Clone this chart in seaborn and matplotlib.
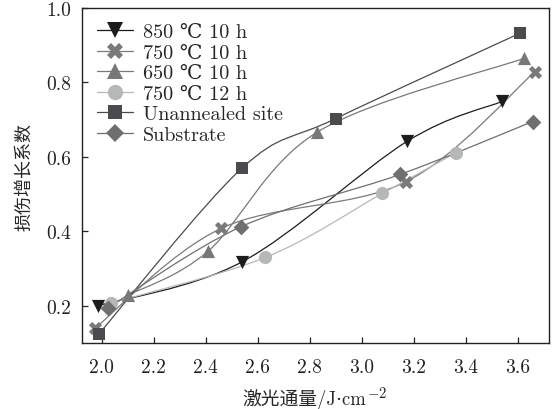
import numpy as np
import pandas as pd
import matplotlib
matplotlib.use("Agg")
import matplotlib.pyplot as plt
from matplotlib.path import Path
from matplotlib.patches import PathPatch
from matplotlib.lines import Line2D
import seaborn as sns

# values
labels = ["850 ℃ 10 h", "750 ℃ 10 h", "650 ℃ 10 h", "750 ℃ 12 h", "Unannealed site", "Substrate"]
x_850 = [1.985, 2.54, 3.175, 3.54]
y_850 = [0.200, 0.318, 0.642, 0.749]
x_750_10 = [1.975, 2.46, 3.17, 3.665]
y_750_10 = [0.140, 0.408, 0.533, 0.828]
x_650 = [2.10, 2.41, 2.83, 3.625]
y_650 = [0.228, 0.347, 0.667, 0.865]
x_750_12 = [2.035, 2.63, 3.08, 3.362]
y_750_12 = [0.207, 0.330, 0.502, 0.611]
x_unann = [1.99, 2.54, 2.90, 3.608]
y_unann = [0.125, 0.570, 0.703, 0.932]
x_sub = [2.025, 2.535, 3.148, 3.658]
y_sub = [0.195, 0.412, 0.553, 0.695]

xs = [x_850, x_750_10, x_650, x_750_12, x_unann, x_sub]
ys = [y_850, y_750_10, y_650, y_750_12, y_unann, y_sub]
markers = ["v", "X", "^", "o", "s", "D"]
colors = ["#1c1c1c", "#7a7a7a", "#787878", "#b6b8b8", "#4b4b4d", "#6f6f6f"]
msizes = [9.5, 9.5, 9.5, 9.5, 8.5, 8]

sns.set_theme(style="ticks")
plt.rcParams["font.family"] = ["cmr10", "DejaVu Serif", "Noto Sans CJK SC"]
plt.rcParams["mathtext.fontset"] = "cm"
plt.rcParams["axes.unicode_minus"] = False

fig = plt.figure(figsize=(5.55, 4.10), dpi=100)
ax = fig.add_axes([0.148, 0.161, 0.841, 0.817])


def smooth_path(px, py):
    # Catmull-Rom style smooth connection through the points, as Bezier segments
    p = np.column_stack([px, py])
    ext = np.vstack([p[0], p, p[-1]])
    verts = [p[0]]
    codes = [Path.MOVETO]
    for i in range(len(p) - 1):
        p0, p1, p2, p3 = ext[i], ext[i + 1], ext[i + 2], ext[i + 3]
        verts += [p1 + (p2 - p0) / 6, p2 - (p3 - p1) / 6, p2]
        codes += [Path.CURVE4] * 3
    return Path(verts, codes)


handles = []
for lab, x, y, m, c, ms in zip(labels, xs, ys, markers, colors, msizes):
    ax.add_patch(PathPatch(smooth_path(x, y), facecolor="none", edgecolor=c,
                           lw=0.9, zorder=2))
    df = pd.DataFrame({"x": x, "y": y})
    sns.scatterplot(data=df, x="x", y="y", marker=m, color=c, s=ms ** 2,
                    linewidth=0, ax=ax, zorder=3, legend=False)
    handles.append(Line2D([], [], color=c, lw=0.9, marker=m, markersize=ms + 1.5,
                          markeredgewidth=0, label=lab))

ax.set_xlim(1.925, 3.72)
ax.set_ylim(0.1, 1.0)
ax.set_xticks(np.arange(2.0, 3.61, 0.2))
ax.set_yticks([0.2, 0.4, 0.6, 0.8, 1.0])
ax.xaxis.set_major_formatter(matplotlib.ticker.FormatStrFormatter("%.1f"))
ax.yaxis.set_major_formatter(matplotlib.ticker.FormatStrFormatter("%.1f"))
ax.tick_params(direction="in", length=4, width=0.9, labelsize=14, colors="#222222", pad=8)
ax.tick_params(axis="x", pad=11)
for s in ax.spines.values():
    s.set_linewidth(1.0)
    s.set_color("#222222")

xl = ax.set_xlabel("激光通量/J·cm", fontsize=13.5)
ax.xaxis.set_label_coords(0.475, -0.135)
ax.annotate("$-2$", xy=(1.0, 1.0), xycoords=xl, xytext=(1, 2),
            textcoords="offset points", ha="left", va="top", fontsize=10.5,
            color="#222222")
ax.set_ylabel("损伤增长系数", fontsize=13, labelpad=10)

ax.legend(handles=handles, loc="upper left", frameon=False, fontsize=14.5,
          handlelength=1.8, handletextpad=0.45, labelspacing=0.12,
          borderaxespad=0.35, bbox_to_anchor=(0.0, 1.0))

fig.savefig("out.png", dpi=100)
